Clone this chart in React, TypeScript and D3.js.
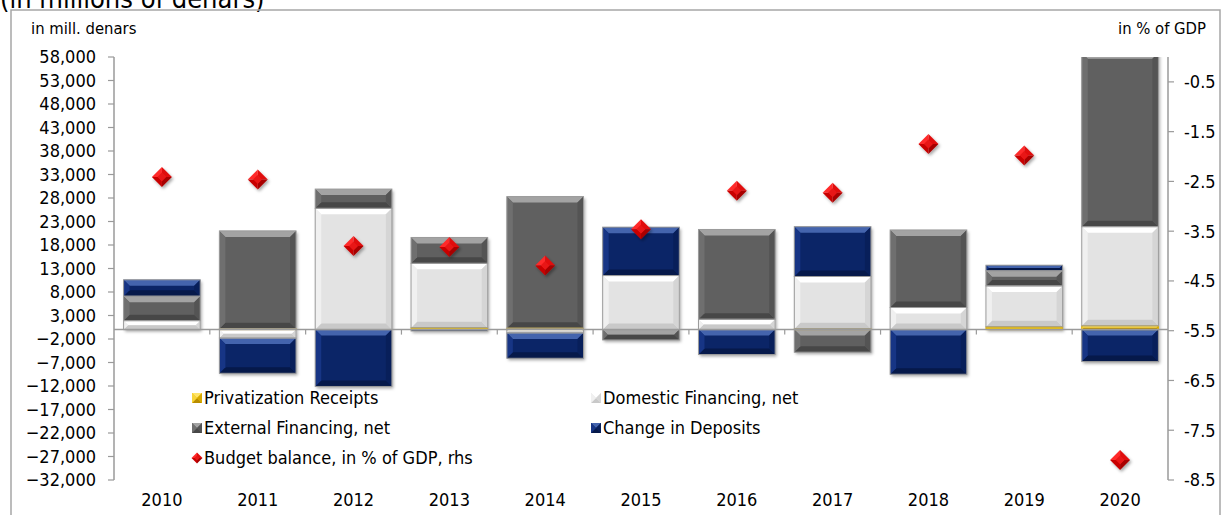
import React from "react";
import * as d3 from "d3";

const years = ["2010", "2011", "2012", "2013", "2014", "2015", "2016", "2017", "2018", "2019", "2020"];
const privatization = [0, 200, 0, 400, 300, 0, 0, 200, 0, 600, 800];
const domestic = [1900, -1800, 25800, 13700, -700, 11500, 2200, 11100, 4700, 8700, 21100];
const external = [5200, 20800, 4100, 5500, 28000, -2200, 19100, -4800, 16500, 3200, 37000];
const deposits = [3500, -7500, -12100, -300, -5400, 10300, -5300, 10600, -9500, 1200, -6800];
const balance = [-2.41, -2.46, -3.8, -3.82, -4.19, -3.46, -2.69, -2.73, -1.75, -1.98, -8.1];

const leftTicks = [58000, 53000, 48000, 43000, 38000, 33000, 28000, 23000, 18000, 13000, 8000, 3000, -2000, -7000, -12000, -17000, -22000, -27000, -32000];
const rightTicks = [-0.5, -1.5, -2.5, -3.5, -4.5, -5.5, -6.5, -7.5, -8.5];

const seriesKeys = ["privatization", "domestic", "external", "deposits"];
const seriesNames = ["Privatization Receipts", "Domestic Financing, net", "External Financing, net", "Change in Deposits"];

type Pal = { base: string; top: string; bottom: string; left: string; right: string };
const palettes: Record<string, Pal> = {
  privatization: { base: "#f1c300", top: "#ffe46a", bottom: "#b88d00", left: "#f7d43a", right: "#d6a800" },
  domestic: { base: "#e3e3e3", top: "#ffffff", bottom: "#c9c9c9", left: "#f0f0f0", right: "#d5d5d5" },
  external: { base: "#606060", top: "#a3a3a3", bottom: "#474747", left: "#6f6f6f", right: "#545454" },
  deposits: { base: "#0b2567", top: "#4464ad", bottom: "#06194a", left: "#173585", right: "#081f5a" },
};

const FONT = "'DejaVu Sans Condensed', 'DejaVu Sans', sans-serif";

function BevelRect({ x, y, w, h, pal }: { x: number; y: number; w: number; h: number; pal: Pal }) {
  if (h <= 0.01) return null;
  const b = Math.min(6, h / 2, w / 2);
  const x1 = x + w, y1 = y + h;
  return (
    <g>
      <rect x={x} y={y} width={w} height={h} fill={pal.base} />
      {h > 3 && (
        <>
          <polygon points={`${x},${y} ${x1},${y} ${x1 - b},${y + b} ${x + b},${y + b}`} fill={pal.top} />
          <polygon points={`${x},${y1} ${x1},${y1} ${x1 - b},${y1 - b} ${x + b},${y1 - b}`} fill={pal.bottom} />
          <polygon points={`${x},${y} ${x + b},${y + b} ${x + b},${y1 - b} ${x},${y1}`} fill={pal.left} />
          <polygon points={`${x1},${y} ${x1 - b},${y + b} ${x1 - b},${y1 - b} ${x1},${y1}`} fill={pal.right} />
        </>
      )}
    </g>
  );
}

function Diamond({ cx, cy, r }: { cx: number; cy: number; r: number }) {
  return (
    <g>
      <polygon points={`${cx},${cy - r} ${cx},${cy} ${cx - r},${cy}`} fill="#ff2a2a" />
      <polygon points={`${cx},${cy - r} ${cx + r},${cy} ${cx},${cy}`} fill="#e00d0d" />
      <polygon points={`${cx - r},${cy} ${cx},${cy} ${cx},${cy + r}`} fill="#c80000" />
      <polygon points={`${cx + r},${cy} ${cx},${cy + r} ${cx},${cy}`} fill="#a80000" />
      <polygon points={`${cx},${cy - r * 0.45} ${cx + r * 0.45},${cy} ${cx},${cy + r * 0.45} ${cx - r * 0.45},${cy}`} fill="#e81414" />
    </g>
  );
}

export default function App() {
  const W = 1221, H = 515;
  const L = 114, R = 1168, T = 57, B = 480;

  const x = d3.scaleBand<string>().domain(years).range([L, R]).paddingInner(0.2).paddingOuter(0.1);
  const y = d3.scaleLinear().domain([-32000, 58000]).range([B, T]);
  const y2 = d3.scaleLinear().domain([-8.5, 0]).range([B, T]);

  const table = years.map((yr, i) => ({
    year: yr,
    privatization: privatization[i],
    domestic: domestic[i],
    external: external[i],
    deposits: deposits[i],
  }));
  const stacked = d3.stack<any>().keys(seriesKeys).offset(d3.stackOffsetDiverging)(table);

  const step = x.step();
  const gap = step - x.bandwidth();
  const boundaries = years.slice(1).map((yr) => (x(yr) as number) - gap / 2);
  const y0 = y(0);

  const legendItems = [
    { key: "privatization", name: seriesNames[0], mx: 192, ty: 398 },
    { key: "domestic", name: seriesNames[1], mx: 591, ty: 398 },
    { key: "external", name: seriesNames[2], mx: 192, ty: 428 },
    { key: "deposits", name: seriesNames[3], mx: 591, ty: 428 },
  ];

  return (
    <svg width={W} height={H} style={{ position: "absolute", left: 0, top: 0, background: "#fff" }} fontFamily={FONT}>
      <defs>
        <filter id="sh" x="-10%" y="-10%" width="130%" height="130%">
          <feDropShadow dx="1.5" dy="2" stdDeviation="1.5" floodColor="#000" floodOpacity="0.35" />
        </filter>
        <clipPath id="plot">
          <rect x={L} y={T} width={R - L} height={B - T} />
        </clipPath>
      </defs>
      <text x={0} y={8} fontSize={27} fill="#000">(in millions of denars)</text>
      <rect x={11} y={10} width={1209} height={520} fill="none" stroke="#a6a6a6" strokeWidth={1.5} />

      <text x={31} y={34} fontSize={16.5} fill="#000">in mill. denars</text>
      <text x={1206} y={34} fontSize={16.5} fill="#000" textAnchor="end">in % of GDP</text>

      {/* bars */}
      <g clipPath="url(#plot)">
        {years.map((yr, i) => {
          const xs = x(yr) as number;
          const segs = stacked.map((s) => ({ key: s.key, a: s[i][0], b: s[i][1] })).filter((s) => Math.abs(s.b - s.a) > 0);
          const hi = d3.max(segs, (s) => Math.max(s.a, s.b)) ?? 0;
          const lo = d3.min(segs, (s) => Math.min(s.a, s.b)) ?? 0;
          return (
            <g key={yr}>
              <g filter="url(#sh)">
                {hi > 0 && <rect x={xs} y={y(hi)} width={x.bandwidth()} height={y0 - y(hi)} fill="#ccc" />}
                {lo < 0 && <rect x={xs} y={y0} width={x.bandwidth()} height={y(lo) - y0} fill="#ccc" />}
              </g>
              {segs.map((s) => {
                const top = y(Math.max(s.a, s.b));
                const bot = y(Math.min(s.a, s.b));
                return <BevelRect key={s.key} x={xs} y={top} w={x.bandwidth()} h={bot - top} pal={palettes[s.key]} />;
              })}
              {segs.map((s) => {
                const top = y(Math.max(s.a, s.b));
                const bot = y(Math.min(s.a, s.b));
                return (
                  <rect key={"o" + s.key} x={xs} y={top} width={x.bandwidth()} height={bot - top} fill="none"
                    stroke={s.key === "privatization" ? "#e0b000" : "#9c9c9c"} strokeWidth={1} />
                );
              })}
            </g>
          );
        })}
      </g>

      {/* zero axis */}
      <line x1={L} x2={R} y1={y0} y2={y0} stroke="#9a9a9a" strokeWidth={1.5} />
      {boundaries.map((bx, i) => (
        <line key={i} x1={bx} x2={bx} y1={y0} y2={y0 + 5} stroke="#9a9a9a" strokeWidth={1.2} />
      ))}

      {/* left axis */}
      <line x1={L} x2={L} y1={T} y2={B} stroke="#9a9a9a" strokeWidth={1.5} />
      {leftTicks.map((t) => (
        <g key={t}>
          <line x1={L - 6} x2={L} y1={y(t)} y2={y(t)} stroke="#9a9a9a" strokeWidth={1.2} />
          <text x={96} y={y(t)} dy="0.36em" fontSize={18} textAnchor="end" fill="#000">{d3.format(",")(t)}</text>
        </g>
      ))}

      {/* right axis */}
      <line x1={R} x2={R} y1={T} y2={B} stroke="#9a9a9a" strokeWidth={1.5} />
      {rightTicks.map((t) => (
        <g key={t}>
          <line x1={R} x2={R + 6} y1={y2(t)} y2={y2(t)} stroke="#9a9a9a" strokeWidth={1.2} />
          <text x={1184} y={y2(t)} dy="0.36em" fontSize={18} fill="#000">{t.toFixed(1)}</text>
        </g>
      ))}

      {/* year labels */}
      {years.map((yr) => (
        <text key={yr} x={(x(yr) as number) + x.bandwidth() / 2} y={506} fontSize={18} textAnchor="middle" fill="#000">{yr}</text>
      ))}

      {/* balance diamonds */}
      <g filter="url(#sh)">
        {balance.map((v, i) => (
          <Diamond key={i} cx={(x(years[i]) as number) + x.bandwidth() / 2} cy={y2(v)} r={10} />
        ))}
      </g>

      {/* legend */}
      {legendItems.map((it) => (
        <g key={it.key}>
          <BevelRect x={it.mx} y={it.ty - 5} w={10} h={10} pal={palettes[it.key]} />
          <text x={it.mx + 12} y={it.ty} dy="0.36em" fontSize={18} fill="#000">{it.name}</text>
        </g>
      ))}
      <Diamond cx={197} cy={458} r={5.5} />
      <text x={204} y={458} dy="0.36em" fontSize={18} fill="#000">Budget balance, in % of GDP, rhs</text>
    </svg>
  );
}
